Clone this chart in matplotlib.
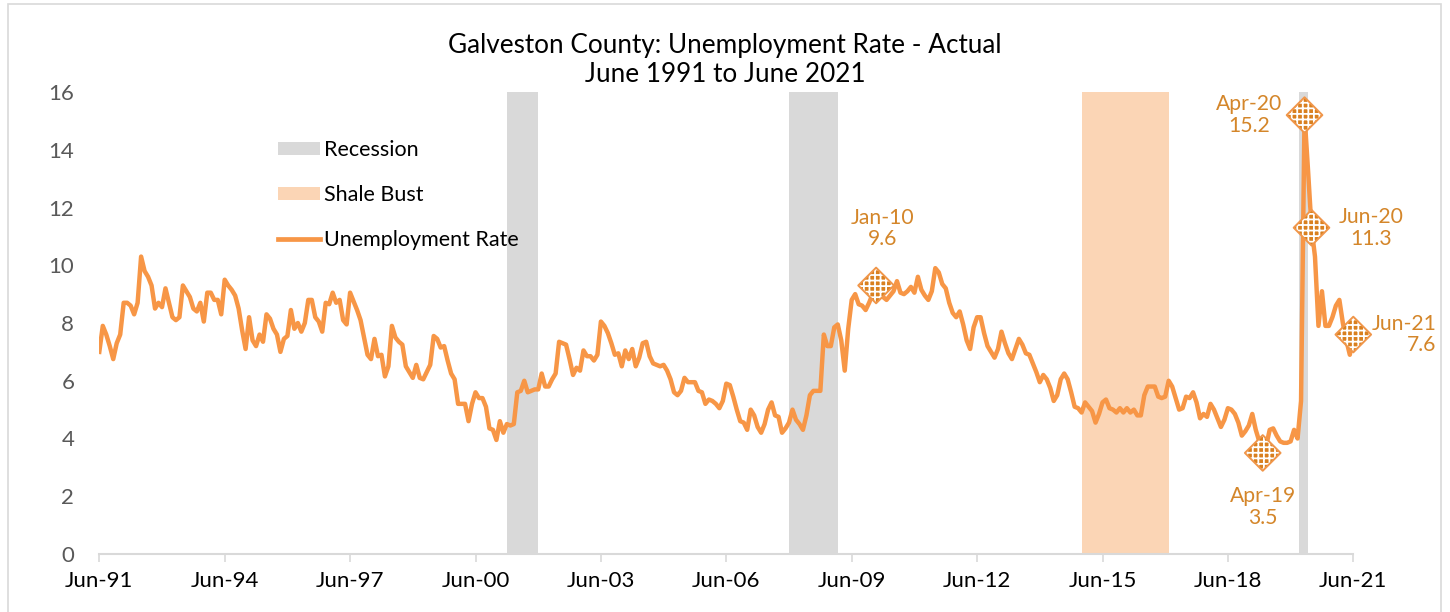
import matplotlib
matplotlib.use("Agg")
import matplotlib.pyplot as plt
from matplotlib.patches import Patch, Rectangle
from matplotlib.lines import Line2D
import numpy as np

plt.rcParams['font.family'] = ['Lato', 'DejaVu Sans']
plt.rcParams['hatch.linewidth'] = 1.3

# Monthly unemployment rate, Jun-1991 .. Jun-2021 (month index 0..360)
rate = [
    7.0, 7.9, 7.6, 7.2, 6.75, 7.3, 7.6, 8.7, 8.7, 8.6, 8.3, 8.7,          # Jun-91..May-92
    10.3, 9.8, 9.6, 9.3, 8.5, 8.7, 8.55, 9.2, 8.7, 8.2, 8.1, 8.2,        # Jun-92..
    9.3, 9.1, 8.9, 8.5, 8.4, 8.7, 8.05, 9.05, 9.05, 8.8, 8.8, 8.3,       # Jun-93..
    9.5, 9.3, 9.15, 8.95, 8.5, 7.75, 7.1, 8.2, 7.4, 7.2, 7.6, 7.35,      # Jun-94..
    8.3, 8.15, 7.8, 7.6, 7.0, 7.45, 7.55, 8.45, 7.8, 8.0, 7.7, 8.0,      # Jun-95..
    8.8, 8.8, 8.2, 8.05, 7.7, 8.7, 8.65, 9.05, 8.7, 8.8, 8.1, 7.95,      # Jun-96..
    9.05, 8.75, 8.45, 8.1, 7.5, 6.9, 6.75, 7.45, 6.85, 6.9, 6.15, 6.5,   # Jun-97..
    7.9, 7.5, 7.35, 7.25, 6.5, 6.3, 6.1, 6.55, 6.1, 6.05, 6.3, 6.55,     # Jun-98..
    7.55, 7.45, 7.15, 7.2, 6.7, 6.25, 6.05, 5.2, 5.2, 5.2, 4.6, 5.2,     # Jun-99..
    5.6, 5.4, 5.4, 5.1, 4.35, 4.3, 3.95, 4.6, 4.2, 4.5, 4.45, 4.5,       # Jun-00..
    5.6, 5.65, 6.0, 5.6, 5.65, 5.7, 5.7, 6.25, 5.8, 5.8, 6.05, 6.25,     # Jun-01..
    7.35, 7.3, 7.25, 6.75, 6.2, 6.45, 6.35, 7.05, 6.85, 6.85, 6.7, 6.9,  # Jun-02..
    8.05, 7.9, 7.65, 7.3, 6.9, 6.95, 6.5, 7.05, 6.75, 7.1, 6.5, 6.8,     # Jun-03..
    7.3, 7.35, 6.85, 6.6, 6.55, 6.5, 6.55, 6.35, 6.05, 5.6, 5.5, 5.65,   # Jun-04..
    6.1, 5.95, 5.95, 5.95, 5.65, 5.6, 5.2, 5.35, 5.3, 5.2, 5.05, 5.3,    # Jun-05..
    5.9, 5.85, 5.45, 5.0, 4.6, 4.55, 4.3, 5.0, 4.8, 4.4, 4.2, 4.5,       # Jun-06..
    5.0, 5.25, 4.8, 4.75, 4.2, 4.35, 4.55, 5.0, 4.65, 4.5, 4.3, 4.8,     # Jun-07..
    5.5, 5.65, 5.65, 5.65, 7.6, 7.2, 7.2, 7.85, 7.95, 7.4, 6.35, 7.8,    # Jun-08..
    8.8, 9.0, 8.65, 8.6, 8.45, 8.7, 9.0, 9.3, 9.0, 8.9, 8.8, 8.95,       # Jun-09..
    9.1, 9.45, 9.05, 9.0, 9.1, 9.25, 9.05, 9.6, 9.15, 8.95, 8.8, 9.1,    # Jun-10..
    9.9, 9.75, 9.35, 9.2, 8.7, 8.35, 8.2, 8.4, 7.95, 7.4, 7.1, 7.85,     # Jun-11..
    8.2, 8.2, 7.65, 7.2, 7.0, 6.8, 7.1, 7.7, 7.3, 6.95, 6.75, 7.1,       # Jun-12..
    7.45, 7.25, 6.95, 6.9, 6.6, 6.3, 5.95, 6.2, 6.05, 5.75, 5.3, 5.5,    # Jun-13..
    6.05, 6.25, 6.05, 5.6, 5.1, 5.05, 4.9, 5.25, 5.1, 4.95, 4.55, 4.85,  # Jun-14..
    5.25, 5.35, 5.05, 5.0, 4.9, 5.05, 4.9, 5.05, 4.9, 5.0, 4.8, 4.8,     # Jun-15..
    5.5, 5.8, 5.8, 5.8, 5.45, 5.4, 5.45, 6.0, 5.8, 5.4, 5.0, 5.05,       # Jun-16..
    5.45, 5.4, 5.6, 5.25, 4.7, 4.85, 4.75, 5.2, 5.0, 4.7, 4.4, 4.65,     # Jun-17..
    5.05, 5.0, 4.85, 4.55, 4.1, 4.25, 4.45, 4.85, 4.3, 3.9, 3.5, 3.75,   # Jun-18..
    4.3, 4.35, 4.1, 3.9, 3.85, 3.85, 3.9, 4.3, 4.0, 5.3, 15.2, 13.3,     # Jun-19..
    11.3, 10.3, 7.9, 9.1, 7.9, 7.9, 8.2, 8.6, 8.8, 8.0, 7.4, 6.9,        # Jun-20..
    7.6,                                                                 # Jun-21
]

x_tick_labels = ['Jun-91', 'Jun-94', 'Jun-97', 'Jun-00', 'Jun-03', 'Jun-06',
                 'Jun-09', 'Jun-12', 'Jun-15', 'Jun-18', 'Jun-21']
y_ticks = [0, 2, 4, 6, 8, 10, 12, 14, 16]

# shaded periods (month index from Jun-91)
recession_starts = [117, 198, 344.3]
recession_ends = [126, 212, 346.9]
shale_start = 282
shale_end = 307

# labelled points: month index, label text
label_idx = [223, 334, 346, 348, 360]
label_text = ['Jan-10\n9.6', 'Apr-19\n3.5', 'Apr-20\n15.2', 'Jun-20\n11.3', 'Jun-21\n7.6']

LINE = '#F79646'
GREY = '#D9D9D9'
PEACH = '#FBD5B5'
LABEL = '#D4862A'
TXT = '#595959'

W, H = 1450, 612
fig = plt.figure(figsize=(W / 100, H / 100), dpi=100)
ax = fig.add_axes([99.3 / W, (H - 554) / H, 1254 / W, 462 / H])

x = np.arange(len(rate))

for s, e in zip(recession_starts, recession_ends):
    ax.axvspan(s, e, color=GREY, lw=0, zorder=1)
ax.axvspan(shale_start, shale_end, color=PEACH, lw=0, zorder=1)

ax.plot(x, rate, color=LINE, lw=3.2, solid_joinstyle='round', zorder=3)

# checkered diamond markers
mx = np.array(label_idx)
my = np.array([rate[i] for i in label_idx])
ax.scatter(mx, my, marker='D', s=330, facecolor='#D9801F', edgecolor='white',
           hatch='+++', linewidths=0, zorder=4, clip_on=False)
ax.scatter(mx, my, marker='D', s=330, facecolor='none', edgecolor='#F0964A',
           linewidths=1.4, zorder=5, clip_on=False)

offsets = [(6, 57, 'center'), (0, -54, 'center'), (-55, 0, 'center'),
           (60, 0, 'center'), (83, 0, 'right')]
for i, txt, (dx, dy, ha) in zip(label_idx, label_text, offsets):
    ax.annotate(txt, (i, rate[i]), xytext=(dx, dy), textcoords='offset pixels',
                ha=ha, va='center', fontsize=15.2, color=LABEL, linespacing=1.1,
                annotation_clip=False)

ax.set_xlim(0, 360)
ax.set_ylim(0, 16)
ax.set_xticks(np.arange(0, 361, 36))
ax.set_xticklabels(x_tick_labels)
ax.set_yticks(y_ticks)
ax.set_yticklabels([str(v) for v in y_ticks])

for sp in ['top', 'right', 'left']:
    ax.spines[sp].set_visible(False)
ax.spines['bottom'].set_color(GREY)
ax.spines['bottom'].set_linewidth(1.5)
ax.tick_params(axis='x', colors=GREY, length=6, width=1.2, labelsize=16,
               labelcolor='black', pad=6)
ax.tick_params(axis='y', length=0, labelsize=16, labelcolor=TXT, pad=18)

handles = [Patch(facecolor=GREY, edgecolor='none'),
           Patch(facecolor=PEACH, edgecolor='none'),
           Line2D([], [], color=LINE, lw=3.4)]
leg = fig.legend(handles, ['Recession', 'Shale Bust', 'Unemployment Rate'],
                 loc='upper left', bbox_to_anchor=(278 / W, 1 - 140 / H),
                 frameon=False, fontsize=15.5, handlelength=1.95, handleheight=0.6,
                 handletextpad=0.2, labelspacing=1.17, borderaxespad=0,
                 borderpad=0)

fig.text(0.5, 1 - 45 / H, 'Galveston County: Unemployment Rate - Actual',
         ha='center', va='center', fontsize=18.8)
fig.text(0.5, 1 - 75 / H, 'June 1991 to June 2021',
         ha='center', va='center', fontsize=18.8)

# chart border
fig.add_artist(Rectangle((8 / W, -0.01), (1441 - 8) / W, 1 - 4 / H + 0.01,
                         transform=fig.transFigure, fill=False,
                         edgecolor=GREY, lw=1.2))

fig.savefig('out.png', dpi=100)
